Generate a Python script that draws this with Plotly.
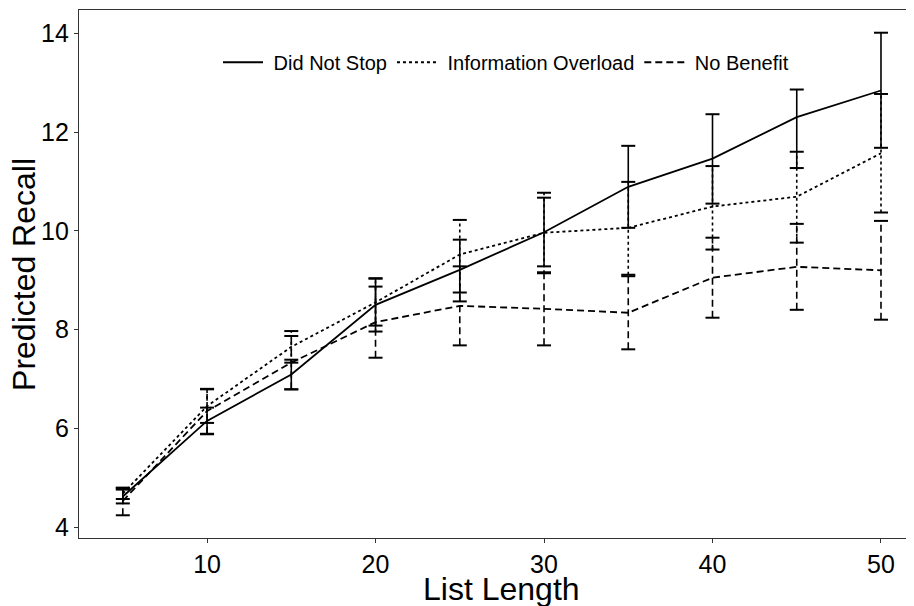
import plotly.graph_objects as go

list_length = [5, 10, 15, 20, 25, 30, 35, 40, 45, 50]

did_not_stop_mean = [4.62, 6.15, 7.09, 8.50, 9.21, 9.97, 10.89, 11.46, 12.30, 12.84]
did_not_stop_low = [4.48, 5.88, 6.79, 7.96, 8.57, 9.28, 10.06, 10.55, 11.27, 11.68]
did_not_stop_high = [4.76, 6.42, 7.39, 9.04, 9.82, 10.67, 11.72, 12.36, 12.86, 14.01]

info_overload_mean = [4.68, 6.45, 7.65, 8.55, 9.52, 9.96, 10.06, 10.49, 10.69, 11.57]
info_overload_low = [4.57, 6.11, 7.33, 8.08, 8.75, 9.14, 9.11, 9.62, 9.76, 10.37]
info_overload_high = [4.79, 6.79, 7.97, 9.03, 10.22, 10.77, 10.99, 11.31, 11.60, 12.77]

no_benefit_mean = [4.53, 6.35, 7.33, 8.15, 8.48, 8.42, 8.34, 9.05, 9.27, 9.20]
no_benefit_low = [4.24, 5.89, 6.79, 7.43, 7.68, 7.68, 7.60, 8.24, 8.40, 8.20]
no_benefit_high = [4.80, 6.80, 7.87, 8.87, 9.28, 9.16, 9.08, 9.86, 10.14, 10.20]

x_title = "List Length"
y_title = "Predicted Recall"

series = [
    ("Did Not Stop", did_not_stop_mean, did_not_stop_low, did_not_stop_high, "solid"),
    ("Information Overload", info_overload_mean, info_overload_low, info_overload_high, "3px,3px"),
    ("No Benefit", no_benefit_mean, no_benefit_low, no_benefit_high, "7px,4px"),
]

FONT = "Liberation Sans, Arial, sans-serif"
fig = go.Figure()

for name, mean, low, high, dash in series:
    xs, ys = [], []
    for xv, lo, hi in zip(list_length, low, high):
        xs += [xv, xv, None]
        ys += [lo, hi, None]
    fig.add_trace(go.Scatter(x=xs, y=ys, mode="lines", showlegend=False,
                             line=dict(color="black", width=1.6, dash=dash),
                             hoverinfo="skip"))
    fig.add_trace(go.Scatter(x=list_length + list_length, y=low + high, mode="markers",
                             showlegend=False, hoverinfo="skip",
                             marker=dict(symbol="line-ew", size=10, color="black",
                                         line=dict(color="black", width=2))))

for name, mean, low, high, dash in series:
    fig.add_trace(go.Scatter(x=list_length, y=mean, mode="lines", name="\u00a0" + name,
                             line=dict(color="black", width=1.8, dash=dash)))

# page has an 8px body margin, so margins are offset by 8px
fig.update_layout(
    width=914, height=606,
    margin=dict(l=71, r=9, t=2, b=76, autoexpand=False),
    paper_bgcolor="white", plot_bgcolor="white",
    font=dict(family=FONT, color="black"),
    legend=dict(orientation="h", x=0.512, xanchor="center", y=0.901, yanchor="middle",
                font=dict(size=20, family=FONT, color="black"),
                bgcolor="rgba(0,0,0,0)", itemwidth=40, tracegroupgap=0),
    xaxis=dict(range=[2.4, 51.9], tickvals=[10, 20, 30, 40, 50], automargin=False,
               showgrid=False, zeroline=False, showline=True, linecolor="#333333",
               linewidth=1.2, mirror=True, ticks="outside", ticklen=4, tickcolor="#333333",
               tickfont=dict(size=25, color="black")),
    yaxis=dict(range=[3.78, 14.47], tickvals=[4, 6, 8, 10, 12, 14], automargin=False,
               showgrid=False, zeroline=False, showline=True, linecolor="#333333",
               linewidth=1.2, ticks="outside", ticklen=4, tickcolor="#333333",
               tickfont=dict(size=25, color="black")),
    annotations=[
        dict(text=x_title, xref="paper", yref="paper", x=0.507, y=-0.097,
             xanchor="center", yanchor="middle", showarrow=False,
             font=dict(size=32, family=FONT, color="black")),
        dict(text=y_title, xref="paper", yref="paper", x=-0.066, y=0.5,
             xanchor="center", yanchor="middle", showarrow=False, textangle=-90,
             font=dict(size=32, family=FONT, color="black")),
    ],
)

fig.write_html("out.html")
